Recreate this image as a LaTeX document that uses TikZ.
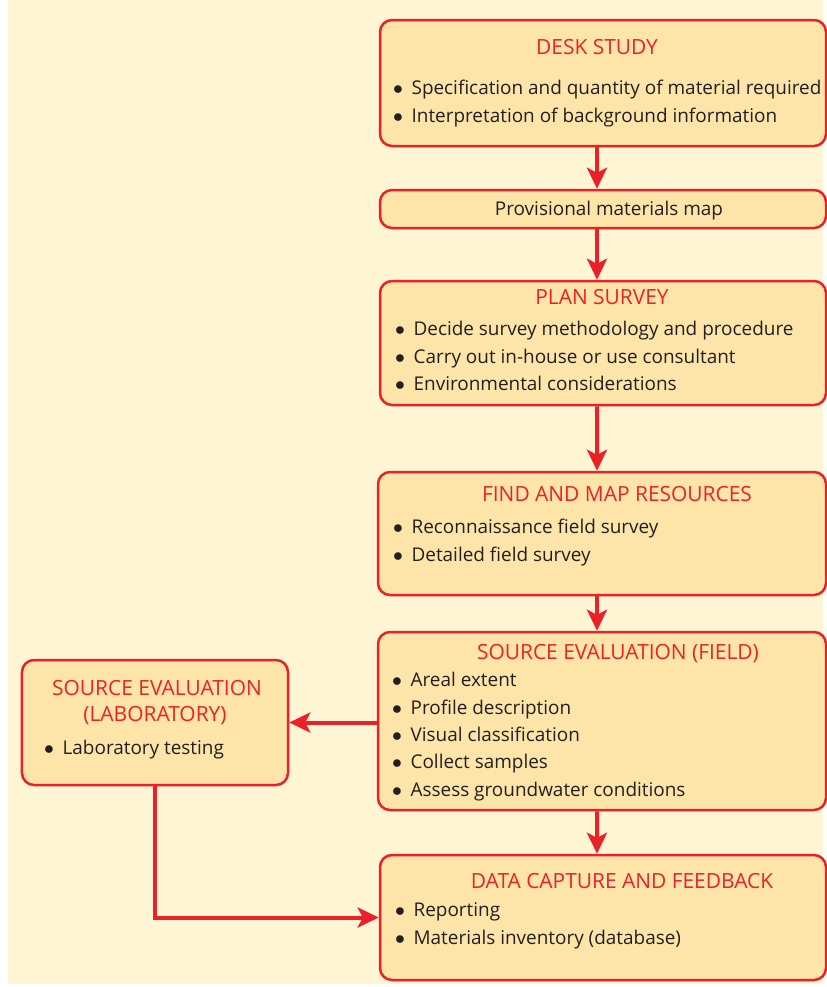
\documentclass[tikz,border=0pt]{standalone}
\usepackage{fontspec}
\setmainfont{Open Sans}
\usetikzlibrary{arrows.meta}

\definecolor{pagebg}{HTML}{FDF5D4}
\definecolor{boxfill}{HTML}{FDE5A9}
\definecolor{flowred}{HTML}{EC2028}
\definecolor{inkgrey}{HTML}{231F20}

\tikzset{
    stage/.style={draw=flowred, line width=2.5bp, fill=boxfill, rounded corners=12bp,
        inner sep=0, minimum width=#1},
    stage/.default=446bp,
    heading/.style={text=flowred, inner sep=0, anchor=mid, font=\fontsize{21}{24}\selectfont},
    item/.style={text=inkgrey, inner sep=0, anchor=mid west},
    flow/.style={draw=flowred, line width=4bp,
        -{Stealth[length=21bp, width=20bp, inset=5bp]}}
}

\newcommand{\bitem}[1]{\scalebox{1.15}{$\bullet$}\hspace{0.45em}#1}

\begin{document}
\begin{tikzpicture}[x=1bp, y=-1bp, font=\fontsize{19}{22}\selectfont]
        \useasboundingbox (0,0) rectangle (827,987);
        \fill[pagebg] (8,0) rectangle (823,984);

        \node[stage, minimum height=126bp] (desk) at (603,83) {};
        \node[stage, minimum height=38bp] (prov) at (603,209) {};
        \node[stage, minimum height=124bp] (plan) at (603,343) {};
        \node[stage=448bp, minimum height=123bp] (find) at (602,533.5) {};
        \node[stage=448bp, minimum height=178bp] (field) at (602,721) {};
        \node[stage=266bp, minimum height=125bp] (lab) at (155,722.5) {};
        \node[stage, minimum height=125bp] (data) at (603,917.5) {};

        \node[heading] (desk-t) at (597,52) {DESK STUDY};
        \node[item] (desk-1) at (393,92) {\bitem{Specification and quantity of material required}};
        \node[item] (desk-2) at (393,120) {\bitem{Interpretation of background information}};

        \node[heading, text=inkgrey, font=\fontsize{19}{22}\selectfont] (prov-t) at (609,213) {Provisional materials map};

        \node[heading] (plan-t) at (602,302) {PLAN SURVEY};
        \node[item] (plan-1) at (395,333) {\bitem{Decide survey methodology and procedure}};
        \node[item] (plan-2) at (395,361) {\bitem{Carry out in-house or use consultant}};
        \node[item] (plan-3) at (395,388) {\bitem{Environmental considerations}};

        \node[heading] (find-t) at (617,499) {FIND AND MAP RESOURCES};
        \node[item] (find-1) at (393,531) {\bitem{Reconnaissance field survey}};
        \node[item] (find-2) at (393,559) {\bitem{Detailed field survey}};

        \node[heading] (field-t) at (618,657) {SOURCE EVALUATION (FIELD)};
        \node[item] (field-1) at (392,684) {\bitem{Areal extent}};
        \node[item] (field-2) at (392,712) {\bitem{Profile description}};
        \node[item] (field-3) at (392,739) {\bitem{Visual classification}};
        \node[item] (field-4) at (392,766) {\bitem{Collect samples}};
        \node[item] (field-5) at (392,794) {\bitem{Assess groundwater conditions}};

        \node[heading] (lab-t1) at (157,693) {SOURCE EVALUATION};
        \node[heading] (lab-t2) at (155,719) {(LABORATORY)};
        \node[item] (lab-1) at (44,752) {\bitem{Laboratory testing}};

        \node[heading] (data-t) at (622,886) {DATA CAPTURE AND FEEDBACK};
        \node[item] (data-1) at (395,914) {\bitem{Reporting}};
        \node[item] (data-2) at (395,942) {\bitem{Materials inventory (database)}};

        \draw[flow] ([xshift=-6bp]desk.south) -- ([xshift=-6bp]prov.north);
        \draw[flow] ([xshift=-6bp]prov.south) -- ([xshift=-6bp]plan.north);
        \draw[flow] ([xshift=-6bp]plan.south) -- ([xshift=-5bp]find.north);
        \draw[flow] ([xshift=-5bp]find.south) -- ([xshift=-5bp]field.north);
        \draw[flow] ([xshift=-5bp]field.south) -- ([xshift=-6bp]data.north);
        \draw[flow] (field.west |- lab.east) -- (lab.east);
        \draw[flow] (lab.south) |- (data.west);
\end{tikzpicture}
\end{document}
